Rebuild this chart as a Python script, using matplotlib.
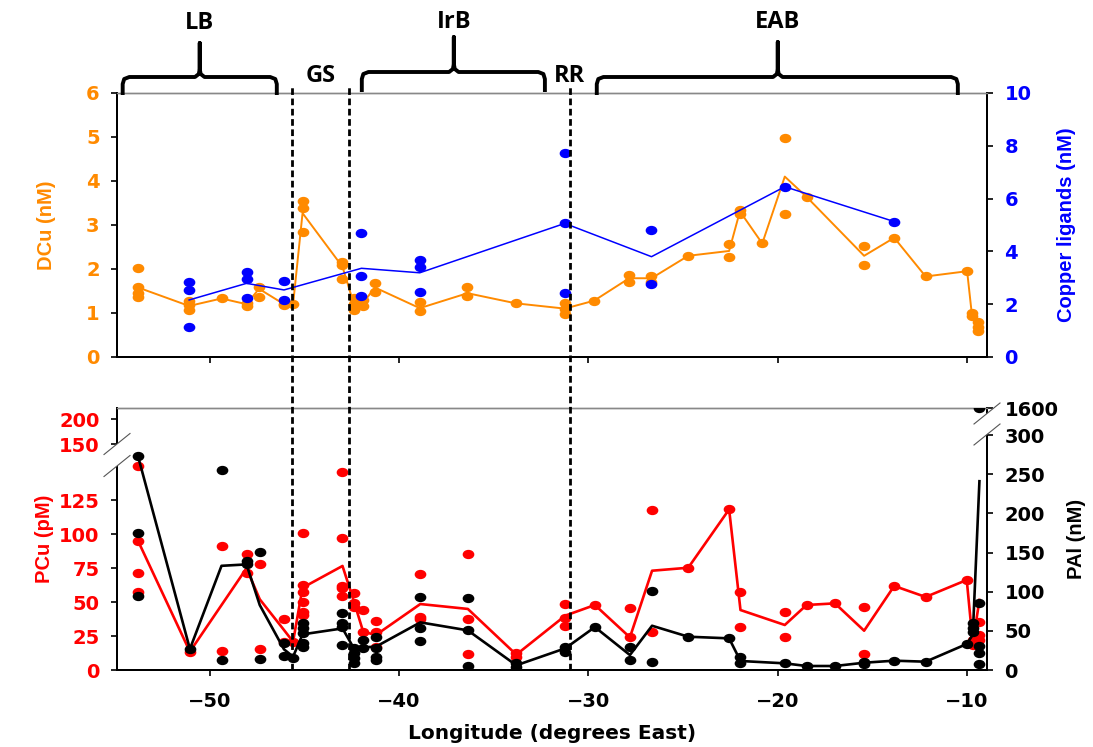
import numpy as np
import matplotlib
matplotlib.use("Agg")
import matplotlib.pyplot as plt
import matplotlib.transforms as mtransforms
from matplotlib.lines import Line2D
from matplotlib.path import Path
from matplotlib.patches import Polygon

# ---- dissolved Cu and ligands (upper panel) ----
dcu_lon = [-53.79, -51.09, -49.38, -48.06, -47.40, -46.08, -45.60, -45.10, -42.99, -42.39,
           -41.90, -41.28, -38.91, -36.39, -33.84, -31.25, -29.70, -27.85, -26.67, -24.73,
           -22.57, -22.00, -20.82, -19.63, -18.48, -15.44, -13.85, -12.19, -10.00, -9.75, -9.44]
dcu_samples = [[2.02, 1.58, 1.46, 1.36], [1.28, 1.18, 1.07], [1.33], [1.23, 1.16], [1.58, 1.37],
               [1.20, 1.18], [1.20], [3.55, 3.38, 2.85], [2.17, 2.09, 1.77], [1.33, 1.20, 1.07],
               [1.30, 1.16], [1.69, 1.48], [1.26, 1.05], [1.60, 1.39], [1.22],
               [1.22, 1.09, 0.97], [1.28], [1.86, 1.71], [1.84, 1.71], [2.30],
               [2.56, 2.27], [3.33, 3.25], [2.58], [4.97, 3.24], [3.64],
               [2.53, 2.08], [2.71], [1.83], [1.95], [1.01, 0.93], [0.79, 0.69, 0.60]]
dcu_profile = [1.58, 1.16, 1.33, 1.20, 1.55, 1.20, 1.20, 3.27, 2.05, 1.20,
               1.23, 1.58, 1.11, 1.45, 1.22, 1.10, 1.28, 1.79, 1.79, 2.30,
               2.41, 3.31, 2.58, 4.10, 3.64, 2.30, 2.71, 1.83, 1.95, 0.97, 0.69]

lig_lon = [-51.09, -48.06, -46.08, -41.99, -38.91, -31.25, -26.67, -19.63, -13.85]
lig_samples = [[2.84, 2.53, 1.15], [3.21, 2.95, 2.25], [2.89, 2.16], [4.69, 3.07, 2.32],
               [3.67, 3.42, 2.46], [7.72, 5.06, 2.41], [4.81, 2.77], [6.45], [5.13]]
lig_profile = [2.16, 2.79, 2.54, 3.36, 3.19, 5.06, 3.80, 6.45, 5.13]

# ---- particulate Cu and Al (lower panel) ----
part_lon = [-53.79, -51.05, -49.38, -48.06, -47.36, -46.08, -45.60, -45.10, -42.99, -42.39,
            -41.90, -41.23, -38.88, -36.37, -33.81, -31.22, -29.66, -27.81, -26.64, -24.73,
            -22.57, -21.97, -19.63, -18.48, -16.98, -15.44, -13.85, -12.19, -10.02, -9.70, -9.35]
pcu_samples = [[150, 95.1, 71.1, 57.6], [13.5], [91.2, 14.0], [85.3, 71.1], [77.9, 15.2],
               [37.5, 20.8], [20.8], [101, 62.5, 57.6, 50.2, 42.9, 40.4],
               [145.8, 96.8, 62, 60, 54.7], [56.4, 49, 46.5], [44.1, 28.2], [36, 28.2, 17.1],
               [70.4, 39.2, 37.5], [85.1, 37.3, 11.8], [12.7, 9.8], [48.3, 38, 32.4], [47.8],
               [45.4, 24], [117.4, 28.2], [75.2], [118.1], [57.6, 31.4], [42.4, 24], [47.8],
               [49], [46.5, 11.5], [61.8], [53.7], [66.2], [22, 18.4], [35.5, 25.7, 22]]
pcu_profile = [95, 13.5, np.nan, 74.8, 52, 29.4, 20.8, 60.5, 76.5, 50.6,
               28.2, 25.7, 48.5, 44.9, 11.3, 40, 47.8, 24, 73, 75.2,
               118.1, 44.1, 33.1, 47.8, 49, 28.9, 61.8, 53.7, 66.2, 19.6, 51.5]
pal_samples = [[273, 174.3, 94.4], [26.8], [254.7, 12.8], [139.4, 134.8], [150.9, 14],
               [34, 18.3], [14.9], [59.5, 53.1, 46.7, 34, 29.7], [72.3, 59.5, 55.2, 31.9],
               [27.7, 21.3, 14.9, 8.5], [38.3, 27.7], [42.5, 27.7, 17, 12.8],
               [93.5, 53.1, 37], [91.4, 50.6, 5.1], [8.5, 4.3], [29, 23.4], [54.8],
               [29, 12.8], [101.1, 10.6], [42.5], [40.4], [16.2, 8.5], [8.5], [5.1], [5.1],
               [10.6, 8.0], [11.9], [10.6], [32.8], [59.5, 53.1, 48.9],
               [1590, 85.8, 30.6, 22.1, 7.2]]
pal_profile = [273, 26.8, 133, 134.8, 82.9, 26.4, 17, 45.5, 53.1, 27.7,
               29, 29.7, 60.8, 50.6, 6, 27.7, 54.8, 19.1, 56.5, 42.5,
               40.4, 11.5, 8.5, 5.1, 5.1, 9.3, 11.9, 10.6, 33.2, 45, 241]

# fronts and basins
front_lon = [-45.65, -42.66, -30.98]
basin_names = ["LB", "IrB", "EAB"]
basin_west = [-54.6, -41.97, -29.56]
basin_east = [-46.46, -32.3, -10.49]
basin_mid = [-50.53, -37.11, -20.0]

ORANGE = "#FF8A00"
BLUE = "#0000FF"
RED = "#FF0000"

W, H = 1093, 747
plt.rcParams["font.weight"] = "bold"
plt.rcParams["axes.labelweight"] = "bold"

circ = Path.unit_circle()
dot = Path(circ.vertices * [1.3, 1.0], circ.codes)


def expand(lon, samples):
    x = np.repeat(lon, [len(s) for s in samples])
    y = np.concatenate([np.asarray(s, float) for s in samples])
    return x, y


def draw_series(ax, lon, samples, profile, color, lw):
    x, y = expand(lon, samples)
    lon = np.asarray(lon, float)
    prof = np.asarray(profile, float)
    ok = ~np.isnan(prof)
    ax.plot(lon[ok], prof[ok], color=color, lw=lw, zorder=2)
    ax.plot(x, y, ls="none", marker=dot, ms=7.4, mfc=color, mec=color, zorder=3)


def piecewise(xp, fp):
    xp = np.asarray(xp, float)
    fp = np.asarray(fp, float)

    def f(v):
        v = np.asarray(v, float)
        out = np.interp(v, xp, fp)
        lo = fp[0] + (v - xp[0]) * (fp[1] - fp[0]) / (xp[1] - xp[0])
        hi = fp[-1] + (v - xp[-1]) * (fp[-1] - fp[-2]) / (xp[-1] - xp[-2])
        return np.where(v < xp[0], lo, np.where(v > xp[-1], hi, out))
    return f


def style_axes(ax):
    for side in ["left", "right", "bottom"]:
        ax.spines[side].set_linewidth(1.4)
    ax.spines["top"].set_color("#888888")
    ax.spines["top"].set_linewidth(1.0)
    ax.tick_params(direction="out", length=4.5, width=1.2, labelsize=14, pad=8)


fig = plt.figure(figsize=(W / 100, H / 100), dpi=100)
ax_t = fig.add_axes([117 / W, 1 - 357 / H, 870 / W, 264 / H])
ax_b = fig.add_axes([117 / W, 1 - 670 / H, 870 / W, 262 / H])
ax_t2 = ax_t.twinx()
ax_b2 = ax_b.twinx()

# upper panel: DCu and copper-binding ligands
draw_series(ax_t, dcu_lon, dcu_samples, dcu_profile, ORANGE, 1.4)
draw_series(ax_t2, lig_lon, lig_samples, lig_profile, BLUE, 1.1)
ax_t.set_xlim(-54.9, -8.95)
ax_t.set_ylim(0, 6)
ax_t2.set_ylim(0, 10)
ax_t.set_yticks(range(0, 7))
ax_t2.set_yticks(range(0, 11, 2))
ax_t.set_xticks([-50, -40, -30, -20, -10])
ax_t.tick_params(axis="x", labelbottom=False)

# lower panel: broken axes for PCu and PAl
pcu_break = ([0, 150, 150.5, 222], [0, 204, 226, 262])
pal_break = ([0, 300, 1600], [0, 235, 262])
ax_b.set_yscale("function", functions=(piecewise(*pcu_break), piecewise(pcu_break[1], pcu_break[0])))
ax_b2.set_yscale("function", functions=(piecewise(*pal_break), piecewise(pal_break[1], pal_break[0])))
draw_series(ax_b, part_lon, pcu_samples, pcu_profile, RED, 1.9)
draw_series(ax_b2, part_lon, pal_samples, pal_profile, "black", 1.9)
ax_b.set_xlim(-54.9, -8.95)
ax_b.set_ylim(0, 222)
ax_b2.set_ylim(0, 1600)
ax_b.set_yticks([0, 25, 50, 75, 100, 125, 150.5, 200])
ax_b.set_yticklabels(["0", "25", "50", "75", "100", "125", "150", "200"])
ax_b2.set_yticks([0, 50, 100, 150, 200, 250, 300, 1600])
ax_b2.set_yticklabels(["0", "50", "100", "150", "200", "250", "300", "1600"])
ax_b.set_xticks([-50, -40, -30, -20, -10])

for a in [ax_t, ax_t2, ax_b, ax_b2]:
    style_axes(a)
ax_b.tick_params(axis="x", pad=11)
ax_t.tick_params(axis="y", labelcolor=ORANGE)
ax_t2.tick_params(axis="y", labelcolor=BLUE)
ax_b.tick_params(axis="y", labelcolor=RED)

lab_kw = dict(family="Liberation Sans", fontsize=14.5, fontweight="bold")
ax_t.set_ylabel("DCu (nM)", color=ORANGE, **lab_kw)
ax_t2.set_ylabel("Copper ligands (nM)", color=BLUE, **lab_kw)
ax_b.set_ylabel("PCu (pM)", color=RED, **lab_kw)
ax_b2.set_ylabel("PAl (nM)", color="black", **lab_kw)
ax_t.yaxis.set_label_coords(-0.070, 0.5)
ax_b.yaxis.set_label_coords(-0.072, 0.5)
ax_t2.yaxis.set_label_coords(1.0805, 0.5)
ax_b2.yaxis.set_label_coords(1.092, 0.5)
ax_b.set_xlabel("Longitude (degrees East)", fontsize=14.5, fontweight="bold", labelpad=10)


def fy(py):
    return 1 - py / H


# axis-break marks
for cx, ys in [(117, (444, 466)), (987, (413.5, 434.5))]:
    (y1, y2) = ys
    d = (13, -10.5)
    pts = [(cx - d[0], y1 - d[1]), (cx + d[0], y1 + d[1]),
           (cx + d[0], y2 + d[1]), (cx - d[0], y2 - d[1])]
    fig.add_artist(Polygon([(px / W, fy(py)) for px, py in pts], closed=True,
                           transform=fig.transFigure, fc="white", ec="none", zorder=10))
    for yy in (y1, y2):
        fig.add_artist(Line2D([(cx - d[0]) / W, (cx + d[0]) / W], [fy(yy - d[1]), fy(yy + d[1])],
                              transform=fig.transFigure, color="#555555", lw=0.8, zorder=11))

# frontal boundaries through both panels
blend = mtransforms.blended_transform_factory(ax_b.transData, fig.transFigure)
for lon in front_lon:
    fig.add_artist(Line2D([lon, lon], [fy(670), fy(86)], transform=blend, color="black",
                          lw=2.0, ls=(0, (2.4, 1.3)), zorder=12))

# basin braces
for name, x0, x1, xc, yh, yb, yt, ylab in zip(
        basin_names, basin_west, basin_east, basin_mid,
        [77, 72, 77], [95, 92, 95], [43, 37, 42], [23, 22, 22]):
    xs = [x0, x0, x0 + 0.08, x0 + 0.35, xc - 0.25, xc - 0.05, xc,
          xc, xc, xc + 0.05, xc + 0.25, x1 - 0.35, x1 - 0.08, x1, x1]
    ys = [yb, yh + 7, yh + 2, yh, yh, yh - 3, yh - 8,
          yt, yh - 8, yh - 3, yh, yh, yh + 2, yh + 7, yb]
    fig.add_artist(Line2D(xs, [fy(v) for v in ys], transform=blend, color="black",
                          lw=2.8, solid_joinstyle="round", solid_capstyle="butt", zorder=12))
    fig.text(xc, fy(ylab), name, transform=blend, ha="center", va="center",
             family="Open Sans", fontsize=17, fontweight="bold")

fig.text(np.mean(front_lon[:2]), fy(76), "GS", transform=blend, ha="center", va="center",
         family="Open Sans", fontsize=17, fontweight="bold")
fig.text(front_lon[2], fy(76), "RR", transform=blend, ha="center", va="center",
         family="Open Sans", fontsize=17, fontweight="bold")

fig.savefig("out.png", dpi=100)
